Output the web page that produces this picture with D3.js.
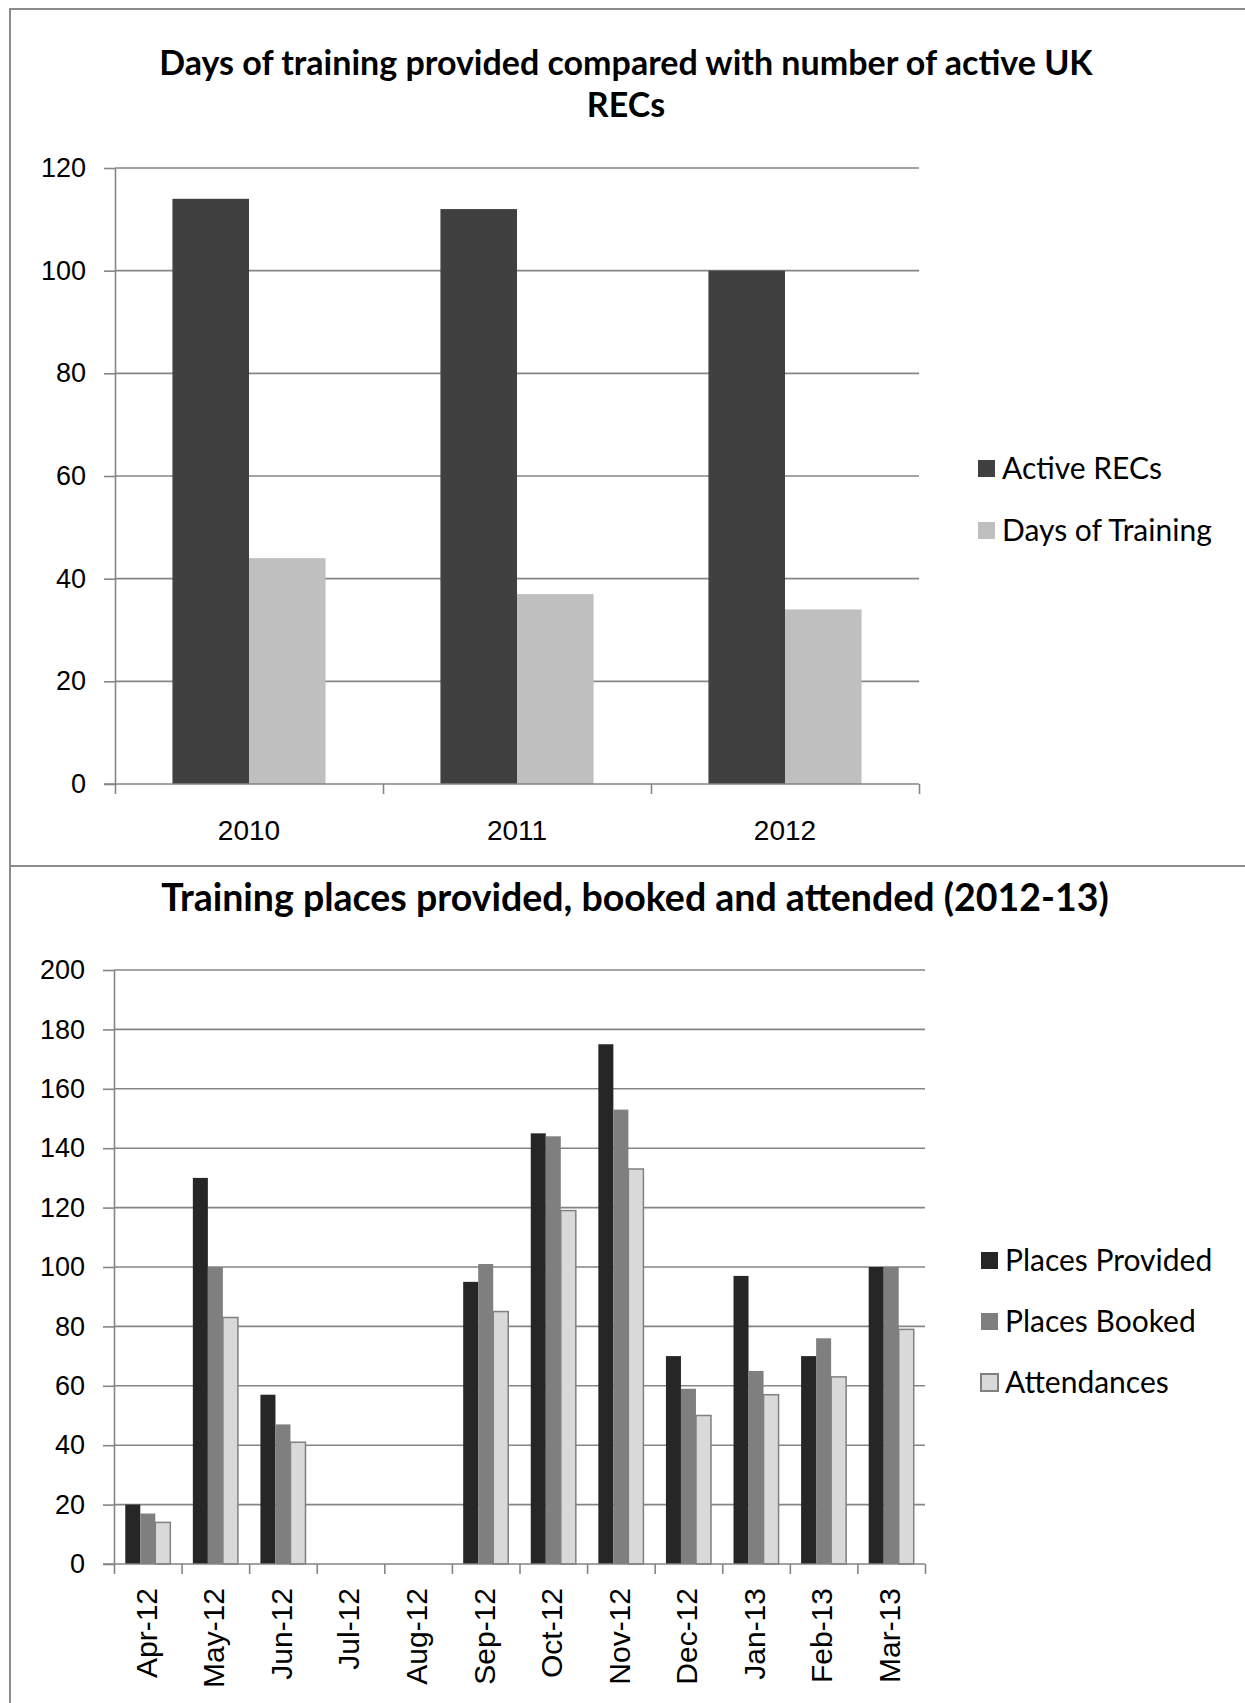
<!DOCTYPE html>
<html>
<head>
<meta charset="utf-8">
<script src="https://cdn.jsdelivr.net/npm/d3@7"></script>
<style>
  body { margin: 0; background: #fff; }
  .tick text { fill: #000; }
</style>
</head>
<body>
<div id="chart"></div>
<script>
// chart 1 data
const years = ["2010", "2011", "2012"];
const activeRecs = [114, 112, 100];
const trainingDays = [44, 37, 34];
const topSeries = ["Active RECs", "Days of Training"];
const topTicks = [0, 20, 40, 60, 80, 100, 120];

// chart 2 data
const months = ["Apr-12", "May-12", "Jun-12", "Jul-12", "Aug-12", "Sep-12",
    "Oct-12", "Nov-12", "Dec-12", "Jan-13", "Feb-13", "Mar-13"];
const placesProvided = [20, 130, 57, null, null, 95, 145, 175, 70, 97, 70, 100];
const placesBooked = [17, 100, 47, null, null, 101, 144, 153, 59, 65, 76, 100];
const attendances = [14, 83, 41, null, null, 85, 119, 133, 50, 57, 63, 79];
const bottomSeries = ["Places Provided", "Places Booked", "Attendances"];
const bottomTicks = [0, 20, 40, 60, 80, 100, 120, 140, 160, 180, 200];

const W = 1245, H = 1703;
const gridColor = "#858585";
const tickFont = "'Liberation Sans', Arial, sans-serif";
const textFont = "Lato, 'Open Sans', sans-serif";

const svg = d3.select("#chart")
    .append("svg")
        .attr("width", W)
        .attr("height", H)
        .style("display", "block");

svg.append("rect").attr("width", W).attr("height", H).attr("fill", "#fff");

// outer frame and separator between the two charts
svg.append("path")
    .attr("d", `M10,${H} V9 H${W} M10,866 H${W}`)
    .attr("fill", "none")
    .attr("stroke", "#8c8c8c")
    .attr("stroke-width", 2);

function drawChart(opt) {
    const g = svg.append("g");
    const {left, right, top, bottom} = opt.box;

    // y scale
    const y = d3.scaleLinear().domain([0, d3.max(opt.ticks)]).range([bottom, top]);

    // category bands (Excel style gap width 150%)
    const n = opt.categories.length;
    const gapRatio = 1.5 / (1.5 + opt.series.length);
    const x = d3.scaleBand()
        .domain(opt.categories)
        .range([left, right])
        .paddingInner(gapRatio)
        .paddingOuter(gapRatio / 2);
    const xs = d3.scaleBand().domain(opt.series).range([0, x.bandwidth()]);
    const xEdge = d3.scaleLinear().domain([0, n]).range([left, right]);

    // horizontal gridlines
    g.selectAll(".grid")
        .data(opt.ticks.slice(1))
        .join("line")
        .attr("x1", left)
        .attr("x2", right)
        .attr("y1", d => y(d))
        .attr("y2", d => y(d))
        .attr("stroke", gridColor)
        .attr("stroke-width", 1.6);

    // bars
    opt.series.forEach((s, si) => {
        const vals = opt.values[si];
        g.append("g").selectAll("rect")
            .data(opt.categories.map((c, i) => ({c: c, v: vals[i]})).filter(d => d.v != null))
            .join("rect")
            .attr("x", d => x(d.c) + xs(s))
            .attr("y", d => y(d.v))
            .attr("width", xs.bandwidth())
            .attr("height", d => y(0) - y(d.v))
            .attr("fill", opt.colors[si])
            .attr("stroke", opt.strokes[si] || "none")
            .attr("stroke-width", opt.strokes[si] ? 1.5 : 0);
    });

    // y axis
    const yAxis = g.append("g")
        .attr("transform", `translate(${left},0)`)
        .call(d3.axisLeft(y).tickValues(opt.ticks).tickSize(11).tickSizeOuter(0).tickPadding(18));
    yAxis.selectAll("line, path").attr("stroke", gridColor).attr("stroke-width", 1.6);
    yAxis.selectAll("text").style("font-family", tickFont).style("font-size", "27px");

    // x axis with ticks between categories
    const xAxis = g.append("g")
        .attr("transform", `translate(0,${bottom})`)
        .call(d3.axisBottom(xEdge).tickValues(d3.range(n + 1)).tickFormat("").tickSize(10).tickSizeOuter(0));
    xAxis.selectAll("line, path").attr("stroke", gridColor).attr("stroke-width", 1.6);
    xAxis.select(".domain").attr("d", `M${xEdge(0) - 11},0H${xEdge(n)}`);

    // category labels
    if (opt.rotate) {
        g.selectAll(".xlab")
            .data(opt.categories)
            .join("text")
            .attr("transform", d => `translate(${x(d) + x.bandwidth() / 2 - 2},${bottom + 24}) rotate(-90)`)
            .attr("dy", "0.36em")
            .attr("text-anchor", "end")
            .style("font-family", tickFont)
            .style("font-size", "30px")
            .text(d => d);
    } else {
        g.selectAll(".xlab")
            .data(opt.categories)
            .join("text")
            .attr("x", d => x(d) + x.bandwidth() / 2)
            .attr("y", bottom + 56)
            .attr("text-anchor", "middle")
            .style("font-family", tickFont)
            .style("font-size", "28px")
            .text(d => d);
    }

    // title
    g.append("text")
        .attr("x", opt.titleX)
        .attr("y", opt.titleY)
        .attr("text-anchor", "middle")
        .style("font-family", textFont)
        .style("font-weight", "bold")
        .style("font-size", opt.titleSize + "px")
        .selectAll("tspan")
        .data(opt.title)
        .join("tspan")
        .attr("x", opt.titleX)
        .attr("dy", (d, i) => i === 0 ? 0 : 42)
        .text(d => d);

    // legend
    const leg = g.append("g")
        .selectAll("g")
        .data(opt.series)
        .join("g")
        .attr("transform", (d, i) => `translate(${opt.legend.x},${opt.legend.y + i * opt.legend.step})`);
    leg.append("rect")
        .attr("x", 0)
        .attr("y", -8)
        .attr("width", 17)
        .attr("height", 17)
        .attr("fill", (d, i) => opt.colors[i])
        .attr("stroke", (d, i) => opt.strokes[i] || "none")
        .attr("stroke-width", (d, i) => opt.strokes[i] ? 2 : 0);
    leg.append("text")
        .attr("x", 24)
        .attr("dy", "0.35em")
        .style("font-family", textFont)
        .style("font-size", "30px")
        .text(d => d);
}

drawChart({
    box: {left: 115, right: 919, top: 168, bottom: 784},
    categories: years,
    series: topSeries,
    values: [activeRecs, trainingDays],
    colors: ["#404040", "#bfbfbf"],
    strokes: [null, null],
    ticks: topTicks,
    rotate: false,
    title: ["Days of training provided compared with number of active UK", "RECs"],
    titleSize: 34,
    titleX: 626,
    titleY: 75,
    legend: {x: 978, y: 468, step: 62}
});

drawChart({
    box: {left: 114, right: 925, top: 970, bottom: 1564},
    categories: months,
    series: bottomSeries,
    values: [placesProvided, placesBooked, attendances],
    colors: ["#262626", "#7f7f7f", "#d9d9d9"],
    strokes: [null, null, "#808080"],
    ticks: bottomTicks,
    rotate: true,
    title: ["Training places provided, booked and attended (2012-13)"],
    titleSize: 37.5,
    titleX: 635,
    titleY: 911,
    legend: {x: 981, y: 1260, step: 61}
});
</script>
</body>
</html>
